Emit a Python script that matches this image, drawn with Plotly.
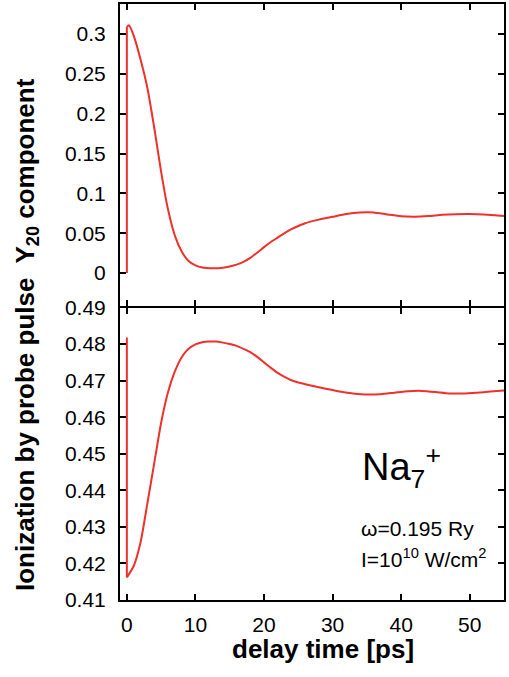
import plotly.graph_objects as go

# ---- data ----
delay_up = [0, 0, 0.3, 1, 2, 3, 4, 5, 6, 7, 8, 9, 10, 11, 12.6, 14, 15, 16, 17, 18, 19, 20,
            21, 22, 23, 24, 25, 26, 28, 30, 32, 34, 36, 38, 40, 42, 44, 46, 48, 50, 52, 54, 55]
y20 = [0.0, 0.309, 0.311, 0.298, 0.268, 0.232, 0.182, 0.127, 0.080, 0.047, 0.027, 0.015,
       0.0095, 0.0068, 0.0059, 0.0066, 0.0082, 0.0105, 0.0140, 0.0190, 0.0255, 0.0325,
       0.0390, 0.0445, 0.0500, 0.0550, 0.0590, 0.0625, 0.0670, 0.0705, 0.0740, 0.0760,
       0.0760, 0.0735, 0.0712, 0.0707, 0.0715, 0.0730, 0.0738, 0.0740, 0.0735, 0.0722, 0.0715]

delay_lo = [0, 0, 1, 2, 3, 4, 5, 6, 7, 8, 9, 10, 11, 12, 13, 14, 15, 16, 17, 18, 19, 20,
            21, 22, 23, 24, 25, 27, 29, 31, 33, 35, 37, 39, 41, 43, 45, 47, 49, 51, 53, 55]
ioniz = [0.4818, 0.4162, 0.4193, 0.4258, 0.4365, 0.4475, 0.4585, 0.4668, 0.4725, 0.4764,
         0.4787, 0.4799, 0.4805, 0.4807, 0.4807, 0.4804, 0.4800, 0.4795, 0.4787, 0.4778,
         0.4765, 0.4750, 0.4735, 0.4721, 0.4710, 0.4701, 0.4695, 0.4686, 0.4678, 0.4670,
         0.4665, 0.4662, 0.4663, 0.4667, 0.4671, 0.4672, 0.4669, 0.4665, 0.4665, 0.4667,
         0.4670, 0.4673]

x_ticks = [0, 10, 20, 30, 40, 50]
y_up_ticks = [0, 0.05, 0.1, 0.15, 0.2, 0.25, 0.3]
y_up_labels = ["0", "0.05", "0.1", "0.15", "0.2", "0.25", "0.3"]
y_lo_ticks = [0.41, 0.42, 0.43, 0.44, 0.45, 0.46, 0.47, 0.48, 0.49]

RED = "#f0302a"
FONT = "Liberation Sans, Arial, Helvetica, sans-serif"

fig = go.Figure()
# vertical jump segments (linear) + smooth curves
fig.add_trace(go.Scatter(x=delay_up[:2], y=y20[:2], mode="lines",
                         line=dict(color=RED, width=2), xaxis="x2", yaxis="y2"))
fig.add_trace(go.Scatter(x=delay_up[1:], y=y20[1:], mode="lines",
                         line=dict(color=RED, width=2, shape="spline", smoothing=0.6),
                         xaxis="x2", yaxis="y2"))
fig.add_trace(go.Scatter(x=delay_lo[:2], y=ioniz[:2], mode="lines",
                         line=dict(color=RED, width=2), xaxis="x", yaxis="y"))
fig.add_trace(go.Scatter(x=delay_lo[1:], y=ioniz[1:], mode="lines",
                         line=dict(color=RED, width=2, shape="spline", smoothing=0.6),
                         xaxis="x", yaxis="y"))

axis_common = dict(showline=True, linecolor="black", linewidth=2, mirror="ticks",
                   ticks="inside", ticklen=6, tickwidth=1.5, tickcolor="black",
                   showgrid=False, zeroline=False, automargin=False,
                   tickfont=dict(family=FONT, size=21, color="black"))

PH = 677 - 4 - 77
split = 0.4941
fig.update_layout(
    width=509, height=677,
    margin=dict(l=120, r=5, t=4, b=77, autoexpand=False),
    paper_bgcolor="white", plot_bgcolor="white",
    showlegend=False,
    xaxis=dict(domain=[0, 1], range=[-1, 55], tickvals=x_ticks, anchor="y",
               ticklabelstandoff=5, **axis_common),
    yaxis=dict(domain=[0, split - 2 / PH], range=[0.41, 0.49], tickvals=y_lo_ticks,
               tickformat=".2f", anchor="x", ticklabelstandoff=8, **axis_common),
    xaxis2=dict(domain=[0, 1], range=[-1, 55], tickvals=x_ticks, showticklabels=False,
                anchor="y2", **axis_common),
    yaxis2=dict(domain=[split, 1], range=[-0.0408, 0.3377], tickvals=y_up_ticks,
                ticktext=y_up_labels, anchor="x2", ticklabelstandoff=8, **axis_common),
)

# annotations placed by pixel position (x from left, y from top), converted to paper coords
anns = [
    dict(text="<b>Ionization by probe pulse  Y<sub>20</sub> component</b>",
         px=27, py=335, textangle=-90, xanchor="center", yanchor="middle",
         font=dict(family=FONT, size=26, color="black")),
    dict(text="<b>delay time [ps]</b>", px=323, py=649, xanchor="center", yanchor="middle",
         font=dict(family=FONT, size=26, color="black")),
    dict(text="Na<sub>7</sub><sup>+</sup>", px=360, py=496, xanchor="left", yanchor="bottom",
         font=dict(family=FONT, size=38, color="black")),
    dict(text="ω=0.195 Ry", px=359, py=542, xanchor="left", yanchor="bottom",
         font=dict(family=FONT, size=21, color="black")),
    dict(text="I=10<sup>10</sup> W/cm<sup>2</sup>", px=359, py=573, xanchor="left",
         yanchor="bottom", font=dict(family=FONT, size=21, color="black")),
]
PW = 509 - 120 - 5
out = []
for a in anns:
    px, py = a.pop("px"), a.pop("py")
    a.update(x=(px - 120) / PW, y=(600 - py) / PH, xref="paper", yref="paper",
             showarrow=False)
    out.append(a)
fig.update_layout(annotations=out)

fig.write_html("out.html")
